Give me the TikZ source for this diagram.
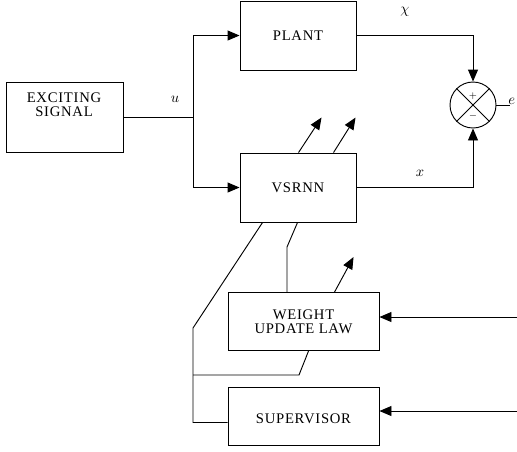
\documentclass[tikz,border=0pt]{standalone}
\usepackage{fontspec}
\setmainfont{Liberation Serif}
\newfontfamily\boxfont[LetterSpace=5]{Liberation Serif}
\usetikzlibrary{arrows.meta,calc}

\begin{document}
\begin{tikzpicture}[x=0.75pt, y=-0.75pt, line width=0.7pt,
    blk/.style={draw, inner sep=0pt, align=center,
      minimum width=116*0.75pt, minimum height=69*0.75pt,
      font=\boxfont\fontsize{11}{10.5}\selectfont},
    wide/.style={blk, minimum width=151*0.75pt, minimum height=58*0.75pt},
    arr/.style={-{Triangle[length=9pt,width=7.5pt]}},
    lbl/.style={font=\fontsize{11}{13}\selectfont, inner sep=0pt}]
    % 0. fixed frame (517 x 451)
    \useasboundingbox (0,0) rectangle (517,451);
    
    % 1. blocks
    \node[blk, minimum width=117*0.75pt, minimum height=70*0.75pt] (exc) at (64.5,117) {};
    \node[align=center, font=\boxfont\fontsize{11}{10.5}\selectfont, inner sep=0pt] (exctxt) at (64,105) {EXCITING\\SIGNAL};
    \node[blk] (plant) at (298,35.5) {PLANT};
    \node[blk] (vsrnn) at (298,187.5) {VSRNN};
    \node[wide] (wul) at (303.5,321.5) {WEIGHT\\UPDATE LAW};
    \node[wide] (sup) at (303.5,416.5) {\mbox{}\\SUPERVISOR};
    
    % 2. summing junction with + and -
    \node[draw, circle, minimum size=46*0.75pt, inner sep=0pt] (sum) at (473,105) {};
    \draw (sum.north east) -- (sum.south west);
    \draw (sum.north west) -- (sum.south east);
    \node[font=\scriptsize, inner sep=0pt] (plus) at ($(sum.center)+(0,-9)$) {$+$};
    \node[font=\scriptsize, inner sep=0pt] (minus) at ($(sum.center)+(0,11)$) {$-$};
    
    % 3. forward paths: u to plant and model, outputs to the junction
    \coordinate (split) at (193,117);
    \draw (exc.east) -- (split);
    \node[lbl] (u) at (175,99) {$u$};
    \draw[arr] (split) |- (plant.west);
    \draw[arr] (split) |- (vsrnn.west);
    \draw[arr] (plant.east) -| (sum.north);
    \draw[arr] (vsrnn.east) -| (sum.south);
    \node[lbl] (chi) at (405,12) {$\chi$};
    \node[lbl] (xlab) at (420,173) {$x$};
    \coordinate (eout) at (510,105);
    \draw (sum.east) -- (eout);
    \node[lbl, anchor=base west] (elab) at (508,104) {$e$};
    
    % 4. adjustable-parameter arrows
    \draw[arr] ($(vsrnn.north west)+(59,0)$) -- +(23,-35);
    \draw[arr] ($(vsrnn.north west)+(94,0)$) -- +(22,-35);
    \draw[arr] ($(wul.north west)+(107,0)$) -- +(19,-35);
    
    % 5. wiring between VSRNN, weight law and supervisor
    \coordinate (k1) at (193,328);
    \coordinate (k2) at (287,247);
    \coordinate (k3) at (299,375);
    \draw ($(vsrnn.south west)+(23,0)$) -- (k1) |- ($(sup.west)+(0,6)$);
    \draw ($(vsrnn.south west)+(58,0)$) -- (k2) -- (k2 |- wul.north);
    \draw ($(wul.south west)+(81,0)$) -- (k3) -- (k3 -| k1);
    
    % 6. inputs entering from the right
    \coordinate (in1) at (517,317);
    \coordinate (in2) at (517,411);
    \draw[arr] (in1) -- (in1 -| wul.east);
    \draw[arr] (in2) -- (in2 -| sup.east);
    
\end{tikzpicture}
\end{document}
